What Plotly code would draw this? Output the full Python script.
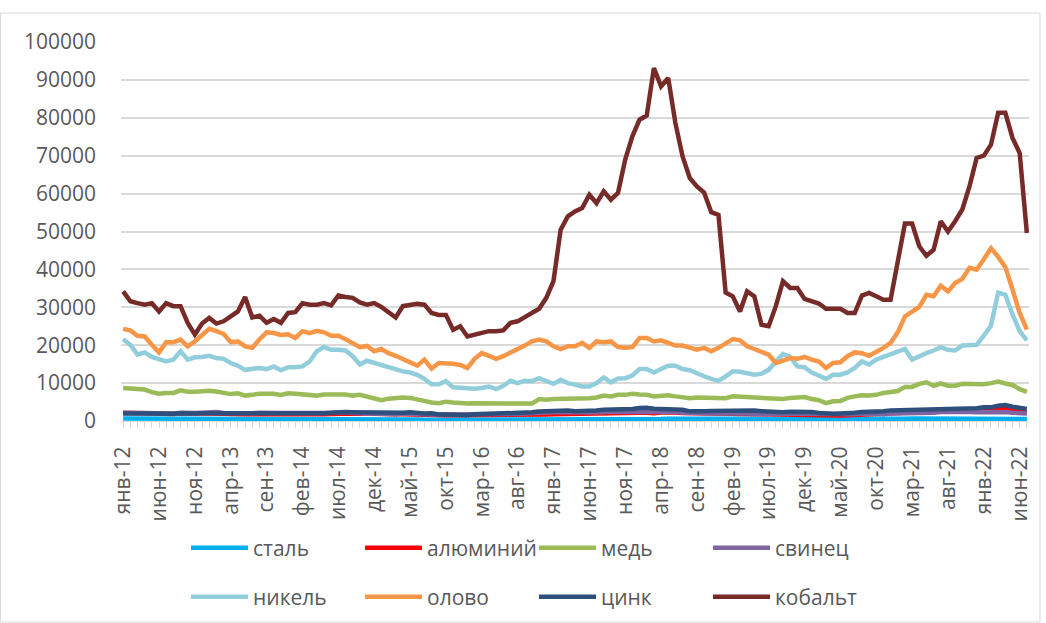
import plotly.graph_objects as go

# ---------------- data ----------------
mon = ["янв", "фев", "мар", "апр", "май", "июн", "июл", "авг", "сен", "окт", "ноя", "дек"]
years = list(range(12, 23))
months = [f"{m}-{y}" for y in years for m in mon][:127]   # янв-12 ... июл-22

steel = [650,650,650,650,600,600,600,600,600,600,600,600,
         600,600,600,600,550,550,550,550,550,550,550,550,
         550,550,550,550,550,550,550,550,550,500,500,500,
         450,450,400,400,400,400,350,350,350,300,300,300,
         300,300,300,300,300,300,300,350,350,350,400,400,
         450,450,450,450,450,450,500,500,500,500,500,550,
         550,550,550,550,600,600,600,600,600,600,550,550,
         550,550,550,500,500,500,450,450,400,350,350,350,
         400,400,400,350,350,350,400,400,450,450,500,550,
         600,600,650,650,700,700,700,700,700,700,650,650,
         650,650,750,750,650,550,500]

aluminium = [2150,2200,2200,2050,2000,1900,1850,1850,2050,1950,1950,2050,
             2050,2050,1900,1850,1850,1800,1750,1800,1750,1800,1750,1750,
             1750,1700,1700,1800,1750,1850,1950,2000,1950,1900,2050,1900,
             1800,1800,1750,1800,1800,1700,1650,1550,1600,1550,1500,1500,
             1500,1550,1550,1550,1550,1600,1650,1650,1600,1650,1750,1700,
             1800,1850,1900,1950,1900,1900,1900,2050,2100,2150,2100,2100,
             2200,2150,2050,2250,2300,2250,2100,2050,2050,2000,1950,1900,
             1850,1850,1850,1850,1800,1750,1800,1750,1750,1750,1750,1750,
             1750,1700,1600,1450,1450,1550,1650,1750,1750,1800,1950,2000,
             2000,2100,2200,2300,2450,2450,2500,2600,2850,2950,2650,2700,
             3000,3250,3500,3250,2850,2550,2400]

copper = [8700,8500,8500,8300,7600,7200,7400,7400,8100,7700,7700,7900,
          8000,7800,7600,7100,7300,6700,6900,7200,7200,7200,6900,7300,
          7200,7000,6700,6700,7000,6900,7000,7000,6700,6900,6500,6200,
          5500,5900,6100,6200,6100,5600,5100,4900,4700,5100,4900,4700,
          4600,4700,4700,4700,4700,4700,4700,4600,4700,4600,5800,5600,
          5800,5800,5800,5800,5800,6000,6200,6700,6500,6900,6900,7200,
          7000,6900,6500,6700,6800,6500,6200,6000,6200,6200,6200,6000,
          6000,6500,6400,6300,6300,6000,6000,5900,5800,6100,6100,6300,
          5800,5500,4700,5200,5300,6100,6500,6800,6700,6900,7400,7700,
          7900,9000,9000,9800,10200,9300,9900,9300,9300,9800,9700,9600,
          9700,10000,10400,9900,9500,8400,7700]

lead = [2100,2200,2100,2100,2000,1900,1900,1900,2200,2100,2100,2200,
        2300,2350,2100,2050,2000,2100,2050,2200,2100,2100,2100,2100,
        2150,2150,2050,2100,2100,2100,2200,2300,2100,2050,2050,1950,
        1850,1800,1800,2000,2000,1800,1750,1700,1700,1700,1650,1750,
        1650,1750,1800,1700,1700,1700,1850,1850,1950,2050,2300,2200,
        2300,2300,2250,2200,2150,2150,2250,2400,2400,2500,2450,2500,
        2550,2550,2400,2350,2350,2450,2200,2100,2050,2000,2000,1950,
        2000,2050,2050,1950,1850,1900,1950,2050,2050,2200,2000,1900,
        1900,1850,1750,1650,1650,1750,1800,1950,1900,1800,1800,2000,
        2000,2100,1950,2000,2200,2200,2350,2400,2300,2300,2400,2300,
        2350,2300,2350,2350,2150,2100,2000]

nickel = [21600,20100,17500,18100,16900,16200,15700,16200,18400,16200,16800,16900,
          17200,16600,16400,15300,14600,13500,13700,14000,13700,14400,13400,14200,
          14200,14400,15700,18400,19500,18800,18800,18600,17100,14900,15900,15300,
          14900,14000,13400,13100,12800,12200,11100,9700,9700,10500,8900,8700,
          8600,8500,8700,9100,8400,9300,10600,10000,10600,10500,11300,10500,
          9800,10900,10000,9600,9100,9100,10000,11500,10200,11200,11300,12000,
          13700,13700,12800,13700,14600,14600,13700,13400,12500,11800,11100,10600,
          11800,13100,13000,12500,12200,12500,13500,15700,17700,16900,14400,14200,
          12800,12000,11100,12200,12200,12800,14000,15700,14900,16200,16900,17700,
          18400,19000,16200,17200,17900,18600,19500,18800,18600,19900,20100,20100,
          22500,25200,33900,33300,28100,23700,21300]

tin = [24300,23900,22500,22300,20100,18100,20800,20800,21500,19700,21000,22800,
       24300,23700,23000,20800,21000,19700,19300,21500,23400,23200,22700,22900,
       21900,23700,23200,23800,23400,22500,22500,21600,20400,19500,19800,18400,
       19000,17900,17200,16400,15500,14600,16200,13800,15300,15300,15100,14800,
       14000,16400,17900,17200,16400,17100,17900,19000,19900,21000,21500,21000,
       19700,19000,19700,19700,20600,19300,21000,20800,21000,19500,19300,19500,
       21900,21900,21000,21300,20600,19900,19900,19300,18800,19300,18400,19300,
       20600,21600,21300,19700,19000,18400,17500,15300,16000,16600,16400,16900,
       16200,15700,14000,15300,15500,17100,18100,17900,17200,18100,19300,20600,
       23400,27600,28900,30100,33300,32900,35700,34200,36400,37500,40400,39900,
       42700,45600,43300,40600,34700,28500,24100]

zinc = [1950,2050,2000,2000,1950,1850,1850,1900,2050,1900,1950,2050,
        2050,2100,1900,1850,1850,1850,1850,1900,1850,1900,1900,1950,
        2050,2050,2000,2000,2050,2150,2300,2350,2300,2250,2250,2200,
        2100,2100,2000,2200,2300,2100,2000,2050,1700,1700,1600,1550,
        1550,1750,1800,1900,1900,2050,2200,2250,2350,2300,2500,2600,
        2700,2850,2800,2600,2600,2550,2800,2950,2950,3150,3200,3150,
        3400,3500,3250,3200,3050,3100,2950,2550,2450,2550,2650,2700,
        2600,2700,2850,2950,2750,2600,2450,2300,2300,2450,2450,2300,
        2350,2100,1900,1900,2000,2000,2150,2400,2450,2400,2600,2800,
        2850,2800,2800,2850,2900,3000,2950,3000,3000,3300,3300,3350,
        3600,3600,4000,4200,3750,3550,3200]

cobalt = [34200,31600,31100,30700,31100,28900,31100,30300,30300,25900,22800,25700,
          27200,25700,26300,27600,28900,32700,27300,27800,25900,26900,25900,28500,
          28700,31100,30700,30700,31100,30500,33100,32700,32500,31300,30700,31100,
          30100,28700,27300,30300,30700,30900,30700,28500,28000,28000,24100,25000,
          22300,22800,23200,23700,23700,23900,25900,26300,27400,28500,29600,32500,
          36900,50500,54000,55300,56200,59700,57500,60600,58400,60200,69000,75100,
          79500,80600,93100,88300,90500,78600,69800,64100,61900,60300,55100,54400,
          33900,32900,28900,34200,32900,25400,25000,30300,36900,35100,35100,32200,
          31600,31000,29600,29600,29600,28500,28500,33100,33800,32900,32000,32000,
          42100,52100,52100,46100,43600,45200,52700,50000,52700,55800,61900,69400,
          70000,72900,81300,81300,74700,70700,49600]

series_names = ["сталь", "алюминий", "медь", "свинец", "никель", "олово", "цинк", "кобальт"]
series_values = [steel, aluminium, copper, lead, nickel, tin, zinc, cobalt]
series_colors = ["#00B0F0", "#FF0000", "#9BBB59", "#8064A2",
                 "#92CDDC", "#F79646", "#2E4F7C", "#772B29"]
legend_ids = ["legend", "legend", "legend", "legend",
              "legend2", "legend2", "legend2", "legend2"]

tick_every = 5
y_ticks = list(range(0, 100001, 10000))

# ---------------- figure ----------------
FONT = "Open Sans"
GRAY = "#595959"
GRID = "#d9d9d9"

fig = go.Figure()
for name, vals, col, lg in zip(series_names, series_values, series_colors, legend_ids):
    fig.add_trace(go.Scatter(
        x=months, y=vals, name=name, mode="lines",
        line=dict(color=col, width=4.5, shape="linear"),
        legend=lg,
    ))

W, H = 1046, 623
ml, mr, mt, mb = 121, 17, 42, 202
pw = W - ml - mr
ph = H - mt - mb

def px2paper_x(px):
    return (px - ml) / pw

def px2paper_y(py):
    return (H - mb - py) / ph

legend_common = dict(
    orientation="h",
    xanchor="left",
    yanchor="middle",
    entrywidth=102,
    entrywidthmode="pixels",
    itemwidth=57,
    font=dict(family=FONT, size=21, color=GRAY),
    bgcolor="rgba(0,0,0,0)",
    itemclick=False,
)

fig.update_layout(
    width=W, height=H,
    margin=dict(l=ml, r=mr, t=mt, b=mb, pad=0, autoexpand=False),
    paper_bgcolor="white",
    plot_bgcolor="white",
    font=dict(family=FONT, size=20, color=GRAY),
    showlegend=True,
    legend=dict(x=px2paper_x(186), y=px2paper_y(548), **legend_common),
    legend2=dict(x=px2paper_x(186), y=px2paper_y(597), **legend_common),
    xaxis=dict(
        type="category",
        range=[-0.3, len(months) - 1 + 0.3],
        tickmode="array",
        tickvals=months,
        ticktext=[m if i % tick_every == 0 else "" for i, m in enumerate(months)],
        tickangle=-90,
        ticks="outside", ticklen=6, tickwidth=1, tickcolor=GRID,
        showline=True, linecolor=GRID, linewidth=1.3,
        showgrid=False, zeroline=False,
        tickfont=dict(family=FONT, size=21, color=GRAY),
        ticklabelstandoff=10,
        automargin=False,
    ),
    yaxis=dict(
        range=[0, 100000],
        tickmode="array",
        tickvals=y_ticks,
        tickformat="d",
        showgrid=True, gridcolor=GRID, gridwidth=1.5,
        zeroline=False, showline=False, ticks="",
        tickfont=dict(family=FONT, size=21, color=GRAY),
        ticklabelstandoff=24,
        automargin=False,
    ),
    shapes=[dict(
        type="rect", xref="paper", yref="paper",
        x0=px2paper_x(0.5), x1=px2paper_x(1040),
        y0=px2paper_y(622), y1=px2paper_y(13),
        line=dict(color=GRID, width=1), fillcolor="rgba(0,0,0,0)", layer="below",
    )],
)

fig.write_html(
    "out.html",
    config={"displayModeBar": False},
    post_script="document.body.style.margin='0';document.body.style.overflow='hidden';",
)
